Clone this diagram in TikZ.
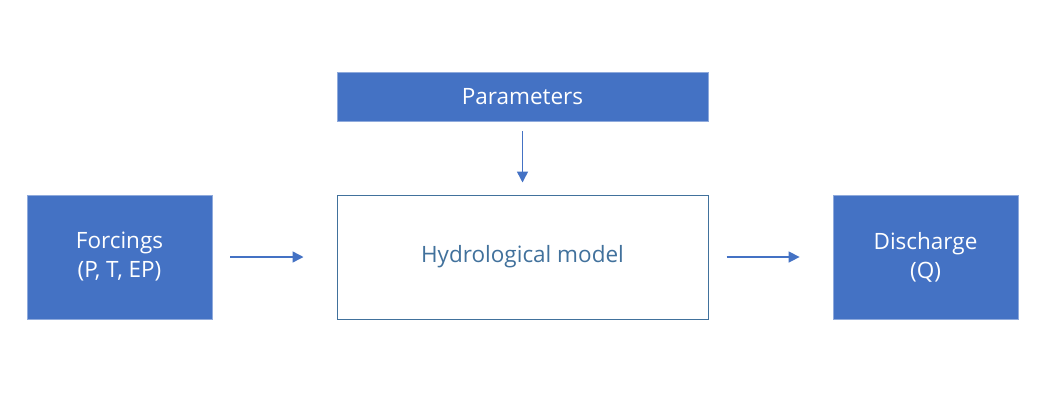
\documentclass[tikz,border=0pt]{standalone}
\usepackage{fontspec}
\setmainfont{Open Sans}
\usetikzlibrary{arrows.meta}
\definecolor{fillblue}{HTML}{4472C4}
\definecolor{edgeblue}{HTML}{8FAADC}
\definecolor{darkedge}{HTML}{41719C}
\begin{document}
\begin{tikzpicture}[x=1pt,y=-1pt,
  solidbox/.style={draw=edgeblue,line width=0.8pt,fill=fillblue,text=white,inner sep=0pt,font=\fontsize{22.5}{29}\selectfont,align=center},
  openbox/.style={draw=darkedge,line width=1pt,fill=white,text=darkedge,inner sep=0pt,font=\fontsize{22.5}{29}\selectfont,align=center},
  flow/.style={draw=fillblue,line width=1.5pt,-{Triangle[length=11pt,width=11pt]}}]
\useasboundingbox (0,0) rectangle (1051,405);
\node[solidbox,minimum width=371pt,minimum height=49pt] (par) at (522.5,96.5) {Parameters};
\node[openbox,minimum width=371pt,minimum height=124pt] (hyd) at (522.5,257) {Hydrological model};
\node[solidbox,minimum width=185pt,minimum height=124pt] (for) at (119.5,257) {Forcings\\(P, T, EP)};
\node[solidbox,minimum width=185pt,minimum height=124pt] (dis) at (925.5,257) {Discharge\\(Q)};
\draw[flow] ([yshift=-10pt]par.south) -- ([yshift=12pt]hyd.north);
\draw[flow] ([xshift=18pt]for.east) -- ([xshift=-33pt]hyd.west);
\draw[flow] ([xshift=18pt]hyd.east) -- ([xshift=-33pt]dis.west);
\end{tikzpicture}
\end{document}
